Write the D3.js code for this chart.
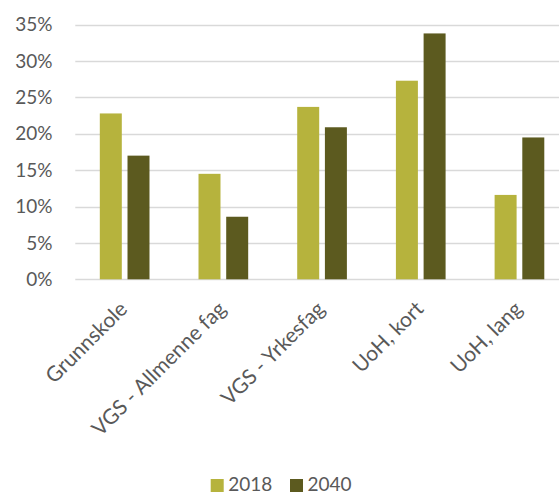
<!DOCTYPE html>
<html><head><meta charset="utf-8">
<script src="https://cdn.jsdelivr.net/npm/d3@7"></script>
<style>body{margin:0;background:#fff;} svg{display:block;font-family:Lato,"Open Sans",sans-serif;}</style>
</head><body>
<svg id="c" width="559" height="495"></svg>
<script>
const categories = ["Grunnskole", "VGS - Allmenne fag", "VGS - Yrkesfag", "UoH, kort", "UoH, lang"];
const seriesNames = ["2018", "2040"];
const values2018 = [0.228, 0.145, 0.237, 0.273, 0.116];
const values2040 = [0.170, 0.086, 0.209, 0.338, 0.195];
const yTicks = [0, 0.05, 0.10, 0.15, 0.20, 0.25, 0.30, 0.35];
const colors = ["#b6b33d", "#5c5a1f"];

(function(){
const svg = d3.select("#c");
const pLeft = 75.3, step = 98.7, pTop = 24.7, pBottom = 279.3;
const x = d3.scaleBand().domain(categories).range([pLeft, pLeft + step * categories.length]).paddingInner(0).paddingOuter(0);
const x1 = d3.scaleBand().domain(seriesNames).range([0, step]).paddingInner(0.206).paddingOuter(0.885);
const y = d3.scaleLinear().domain([0, 0.35]).range([pBottom, pTop]);

// gridlines
svg.append("g").selectAll("line").data(yTicks).join("line")
  .attr("x1", pLeft).attr("x2", 559)
  .attr("y1", d => Math.round(y(d)) + 0.5).attr("y2", d => Math.round(y(d)) + 0.5)
  .attr("stroke", "#d9d9d9").attr("stroke-width", 1.3);

// y labels
const yAxis = d3.axisLeft(y).tickValues(yTicks).tickFormat(d3.format(".0%")).tickSize(0).tickPadding(0);
const ya = svg.append("g").attr("transform", "translate(52.5,0)").call(yAxis);
ya.select(".domain").remove();
ya.selectAll("text").attr("font-size", 19).attr("fill", "#595959").attr("font-family", "Lato");

// bars
const data = categories.map((c, i) => ({c, v: [values2018[i], values2040[i]]}));
const g = svg.append("g");
data.forEach(d => {
  seriesNames.forEach((s, j) => {
    g.append("rect")
      .attr("x", x(d.c) + x1(s)).attr("width", x1.bandwidth())
      .attr("y", y(d.v[j])).attr("height", pBottom - y(d.v[j]))
      .attr("fill", colors[j]);
  });
});

// x labels
const xa = svg.append("g").attr("transform", `translate(0,${pBottom})`)
  .call(d3.axisBottom(x).tickSize(0).tickPadding(0));
xa.select(".domain").remove();
xa.selectAll("text")
  .attr("font-size", 21).attr("fill", "#595959").attr("font-family", "Lato")
  .attr("text-anchor", "end").attr("dy", null).attr("y", 0)
  .attr("transform", "translate(4,31) rotate(-45)");

// legend
const lg = svg.append("g");
const lx = [210.7, 290];
seriesNames.forEach((s, j) => {
  lg.append("rect").attr("x", lx[j]).attr("y", 479).attr("width", 13).attr("height", 13).attr("fill", colors[j]);
  lg.append("text").attr("x", lx[j] + 17.5).attr("y", 491).attr("font-size", 19)
    .attr("fill", "#595959").attr("font-family", "Lato").text(s);
});
})();
</script>
</body></html>
